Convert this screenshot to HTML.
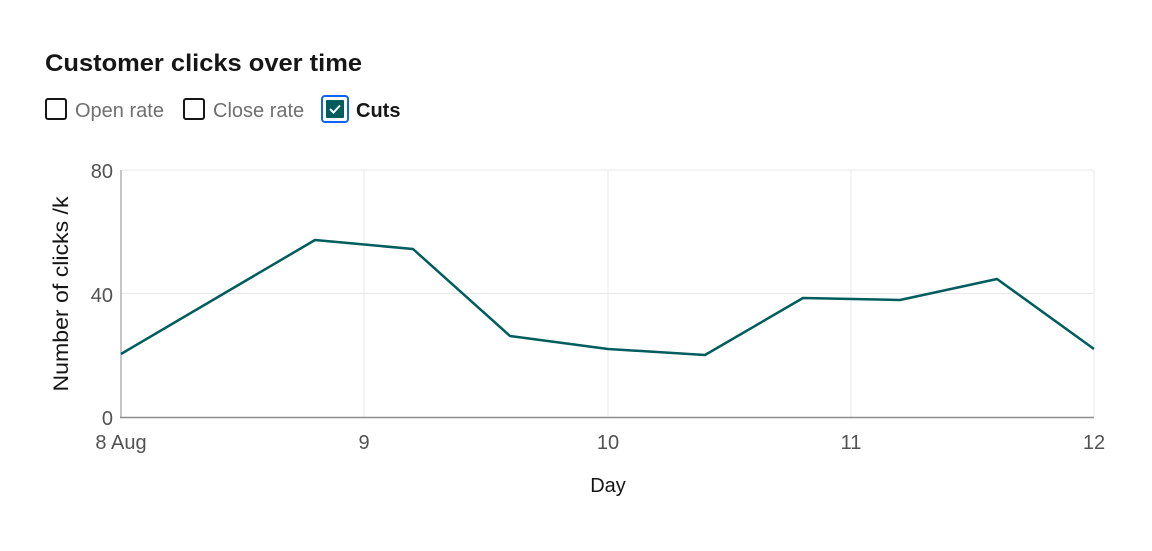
<!DOCTYPE html>
<html><head><meta charset="utf-8"><style>
body{margin:0;width:1152px;height:546px;background:#fff;font-family:"Liberation Sans",sans-serif;overflow:hidden}
</style></head><body>
<svg width="1152" height="546" xmlns="http://www.w3.org/2000/svg" font-family="Liberation Sans, sans-serif">
<text x="45" y="71" font-size="24" font-weight="bold" fill="#161616" textLength="317" lengthAdjust="spacingAndGlyphs">Customer clicks over time</text>
<rect x="46" y="99" width="20" height="20" rx="2" fill="#fff" stroke="#161616" stroke-width="2"/>
<text x="75" y="117" font-size="20" fill="#6f6f6f">Open rate</text>
<rect x="184" y="99" width="20" height="20" rx="2" fill="#fff" stroke="#161616" stroke-width="2"/>
<text x="213" y="117" font-size="20" fill="#6f6f6f">Close rate</text>
<rect x="322" y="96" width="26" height="26" rx="3" fill="none" stroke="#0f62fe" stroke-width="2"/>
<rect x="326" y="100" width="18" height="18" rx="1" fill="#005d5d"/>
<path d="M330 109 l3.5 3.5 l6.5 -7" stroke="#fff" stroke-width="2" fill="none"/>
<text x="356" y="117" font-size="20" font-weight="bold" fill="#161616">Cuts</text>
<g stroke="#e8e8e8" stroke-width="1">
<line x1="121" y1="170" x2="1094" y2="170"/><line x1="121" y1="293.5" x2="1094" y2="293.5"/>
<line x1="364" y1="170" x2="364" y2="417"/><line x1="608" y1="170" x2="608" y2="417"/>
<line x1="851" y1="170" x2="851" y2="417"/><line x1="1094" y1="170" x2="1094" y2="417"/>
</g>
<line x1="121" y1="170" x2="121" y2="418" stroke="#8d8d8d"/>
<line x1="120" y1="417.5" x2="1094" y2="417.5" stroke="#8d8d8d" stroke-width="1.5"/>
<g font-size="20" fill="#525252" text-anchor="end">
<text x="113" y="178">80</text><text x="113" y="302">40</text><text x="113" y="425">0</text>
</g>
<g font-size="20" fill="#525252" text-anchor="middle">
<text x="121" y="449">8 Aug</text><text x="364" y="449">9</text><text x="608" y="449">10</text><text x="851" y="449">11</text><text x="1094" y="449">12</text>
</g>
<text x="608" y="492" font-size="20" fill="#161616" text-anchor="middle">Day</text>
<text transform="translate(68,294) rotate(-90)" font-size="21" fill="#161616" text-anchor="middle" textLength="195" lengthAdjust="spacingAndGlyphs">Number of clicks /k</text>
<polyline fill="none" stroke="#005d5d" stroke-width="2.5" stroke-linejoin="round" points="121,354 315,240 413,249 510,336 608,349 705,355 803,298 900,300 997,279 1094,349"/>
</svg>
</body></html>
